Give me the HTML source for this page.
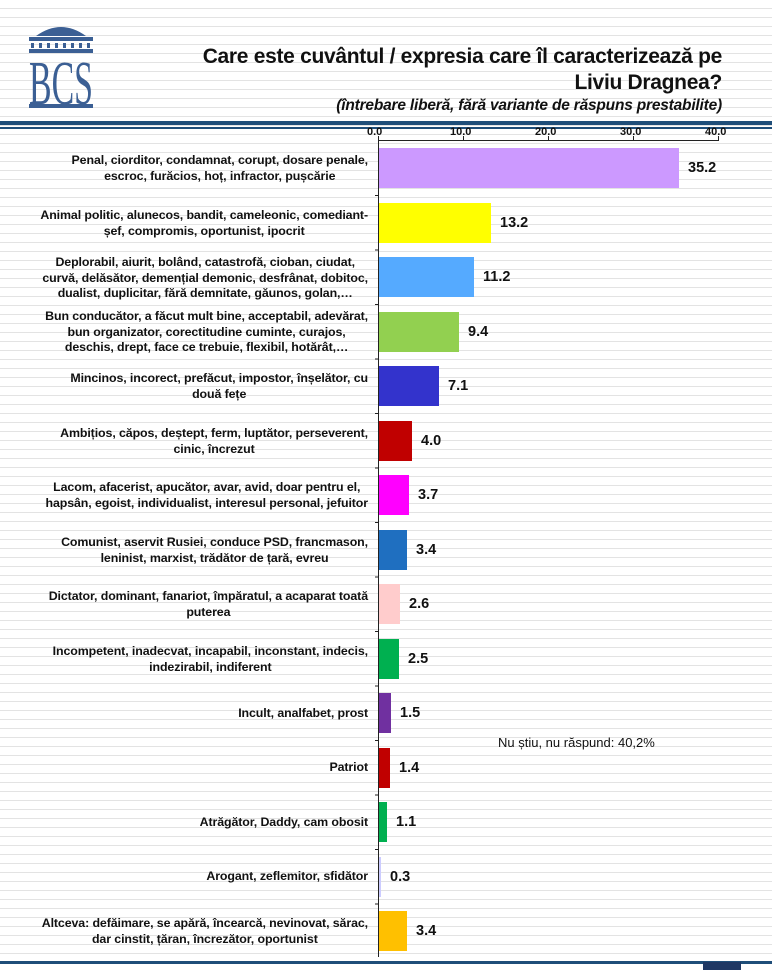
<!DOCTYPE html>
<html><head><meta charset="utf-8"><style>
body{margin:0;width:772px;height:970px;overflow:hidden;position:relative;font-family:"Liberation Sans",sans-serif;
background-color:#fff;
background-image:repeating-linear-gradient(to bottom,transparent 0,transparent 8px,#e3e3e3 8px,#e3e3e3 9px);}
.title{position:absolute;right:50px;top:44px;text-align:right;font-weight:bold;font-size:21px;color:#111;line-height:26px;letter-spacing:-0.3px}
.sub{position:absolute;right:50px;top:97px;font-weight:bold;font-style:italic;font-size:15.5px;color:#111;letter-spacing:-0.2px}
.hl1{position:absolute;left:0;width:772px;top:121px;height:4px;background:#1f4e79;}
.hl2{position:absolute;left:0;width:772px;top:127px;height:2px;background:#1f4e79;}
.bl{position:absolute;left:0;width:772px;top:961px;height:3px;background:#1f4e79;}
.lab{position:absolute;right:404px;width:370px;text-align:right;font-size:12.4px;font-weight:bold;color:#111;line-height:15.5px;letter-spacing:-0.1px}
.lab span{display:inline-block;text-align:center}
.bar{position:absolute;left:379px;height:40px}
.val{position:absolute;font-size:14.5px;font-weight:bold;color:#111}
.tk{position:absolute;font-size:11px;font-weight:bold;color:#111;top:126px}
</style></head><body>
<svg style="position:absolute;left:26px;top:20px" width="70" height="92" viewBox="0 0 70 92">
<path d="M10 16 Q35 -2 60 16 Z" fill="#3b5f94"/>
<rect x="3" y="17" width="64" height="4" fill="#3b5f94"/>
<g fill="#3b5f94"><rect x="5" y="23" width="3" height="5"/><rect x="13" y="23" width="3" height="5"/><rect x="21" y="23" width="3" height="5"/><rect x="29" y="23" width="3" height="5"/><rect x="37" y="23" width="3" height="5"/><rect x="45" y="23" width="3" height="5"/><rect x="53" y="23" width="3" height="5"/><rect x="61" y="23" width="3" height="5"/></g>
<rect x="3" y="29" width="64" height="4" fill="#3b5f94"/>
<text x="35" y="84" text-anchor="middle" font-family="Liberation Serif,serif" font-size="62" fill="#3b5f94" textLength="64" lengthAdjust="spacingAndGlyphs">BCS</text>
<rect x="3" y="84" width="64" height="4" fill="#3b5f94"/>
</svg>
<div class="title">Care este cuvântul / expresia care îl caracterizează pe<br>Liviu Dragnea?</div>
<div class="sub">(întrebare liberă, fără variante de răspuns prestabilite)</div>
<div class="hl1"></div><div class="hl2"></div>
<div class="tk" style="left:367px">0.0</div><div class="tk" style="left:450px">10.0</div><div class="tk" style="left:535px">20.0</div><div class="tk" style="left:620px">30.0</div><div class="tk" style="left:705px">40.0</div>
<svg style="position:absolute;left:0;top:0" width="772" height="970">
<g stroke="#222" stroke-width="1">
<line x1="378.5" y1="140.5" x2="718.5" y2="140.5"/>
<line x1="378.5" y1="136" x2="378.5" y2="141"/><line x1="463.5" y1="136" x2="463.5" y2="141"/><line x1="548.5" y1="136" x2="548.5" y2="141"/><line x1="633.5" y1="136" x2="633.5" y2="141"/><line x1="718.5" y1="136" x2="718.5" y2="141"/>
<line x1="378.5" y1="140" x2="378.5" y2="957"/>
</g>
<g stroke="#222">
<line x1="375" x2="378" y1="195.5" y2="195.5"/><line x1="375" x2="378" y1="250" y2="250"/><line x1="375" x2="378" y1="304.5" y2="304.5"/><line x1="375" x2="378" y1="359" y2="359"/><line x1="375" x2="378" y1="413.5" y2="413.5"/><line x1="375" x2="378" y1="468" y2="468"/><line x1="375" x2="378" y1="522.5" y2="522.5"/><line x1="375" x2="378" y1="577" y2="577"/><line x1="375" x2="378" y1="631.5" y2="631.5"/><line x1="375" x2="378" y1="686" y2="686"/><line x1="375" x2="378" y1="740.5" y2="740.5"/><line x1="375" x2="378" y1="795" y2="795"/><line x1="375" x2="378" y1="849.5" y2="849.5"/><line x1="375" x2="378" y1="904" y2="904"/>
</g>
</svg>

<div class="bar" style="top:148px;width:300px;background:#cc99ff"></div><div class="val" style="top:160px;left:688px">35.2</div>
<div class="bar" style="top:203px;width:112px;background:#ffff00"></div><div class="val" style="top:215px;left:500px">13.2</div>
<div class="bar" style="top:257px;width:95px;background:#55aaff"></div><div class="val" style="top:269px;left:483px">11.2</div>
<div class="bar" style="top:312px;width:80px;background:#92d050"></div><div class="val" style="top:324px;left:468px">9.4</div>
<div class="bar" style="top:366px;width:60px;background:#3333cc"></div><div class="val" style="top:378px;left:448px">7.1</div>
<div class="bar" style="top:421px;width:33px;background:#c00000"></div><div class="val" style="top:433px;left:421px">4.0</div>
<div class="bar" style="top:475px;width:30px;background:#ff00ff"></div><div class="val" style="top:487px;left:418px">3.7</div>
<div class="bar" style="top:530px;width:28px;background:#1f6fc0"></div><div class="val" style="top:542px;left:416px">3.4</div>
<div class="bar" style="top:584px;width:21px;background:#ffcccc"></div><div class="val" style="top:596px;left:409px">2.6</div>
<div class="bar" style="top:639px;width:20px;background:#00b050"></div><div class="val" style="top:651px;left:408px">2.5</div>
<div class="bar" style="top:693px;width:12px;background:#7030a0"></div><div class="val" style="top:705px;left:400px">1.5</div>
<div class="bar" style="top:748px;width:11px;background:#c00000"></div><div class="val" style="top:760px;left:399px">1.4</div>
<div class="bar" style="top:802px;width:8px;background:#00b050"></div><div class="val" style="top:814px;left:396px">1.1</div>
<div class="bar" style="top:857px;width:2px;background:#ccccff"></div><div class="val" style="top:869px;left:390px">0.3</div>
<div class="bar" style="top:911px;width:28px;background:#ffc000"></div><div class="val" style="top:923px;left:416px">3.4</div>

<div class="lab" style="top:153px"><span>Penal, ciorditor, condamnat, corupt, dosare penale,<br>escroc, furăcios, hoț, infractor, pușcărie</span></div>
<div class="lab" style="top:208px"><span>Animal politic, alunecos, bandit, cameleonic, comediant-<br>șef, compromis, oportunist, ipocrit</span></div>
<div class="lab" style="top:255px"><span>Deplorabil, aiurit, bolând, catastrofă, cioban, ciudat,<br>curvă, delăsător, demențial demonic, desfrânat, dobitoc,<br>dualist, duplicitar, fără demnitate, găunos, golan,…</span></div>
<div class="lab" style="top:309px"><span>Bun conducător, a făcut mult bine, acceptabil, adevărat,<br>bun organizator, corectitudine cuminte, curajos,<br>deschis, drept, face ce trebuie, flexibil, hotărât,…</span></div>
<div class="lab" style="top:371px"><span>Mincinos, incorect, prefăcut, impostor, înșelător, cu<br>două fețe</span></div>
<div class="lab" style="top:426px"><span>Ambițios, căpos, deștept, ferm, luptător, perseverent,<br>cinic, încrezut</span></div>
<div class="lab" style="top:480px"><span>Lacom, afacerist, apucător, avar, avid, doar pentru el,<br>hapsân, egoist, individualist, interesul personal, jefuitor</span></div>
<div class="lab" style="top:535px"><span>Comunist, aservit Rusiei, conduce PSD, francmason,<br>leninist, marxist, trădător de țară, evreu</span></div>
<div class="lab" style="top:589px"><span>Dictator, dominant, fanariot, împăratul, a acaparat toată<br>puterea</span></div>
<div class="lab" style="top:644px"><span>Incompetent, inadecvat, incapabil, inconstant, indecis,<br>indezirabil, indiferent</span></div>
<div class="lab" style="top:706px"><span>Incult, analfabet, prost</span></div>
<div class="lab" style="top:760px"><span>Patriot</span></div>
<div class="lab" style="top:815px"><span>Atrăgător, Daddy, cam obosit</span></div>
<div class="lab" style="top:869px"><span>Arogant, zeflemitor, sfidător</span></div>
<div class="lab" style="top:916px"><span>Altceva: defăimare, se apără, încearcă, nevinovat, sărac,<br>dar cinstit, țăran, încrezător, oportunist</span></div>

<div style="position:absolute;left:498px;top:735px;font-size:13px;color:#111">Nu știu, nu răspund: 40,2%</div>
<div class="bl"></div>
<div style="position:absolute;left:703px;top:962px;width:38px;height:8px;background:#1f3864"></div>
</body></html>
